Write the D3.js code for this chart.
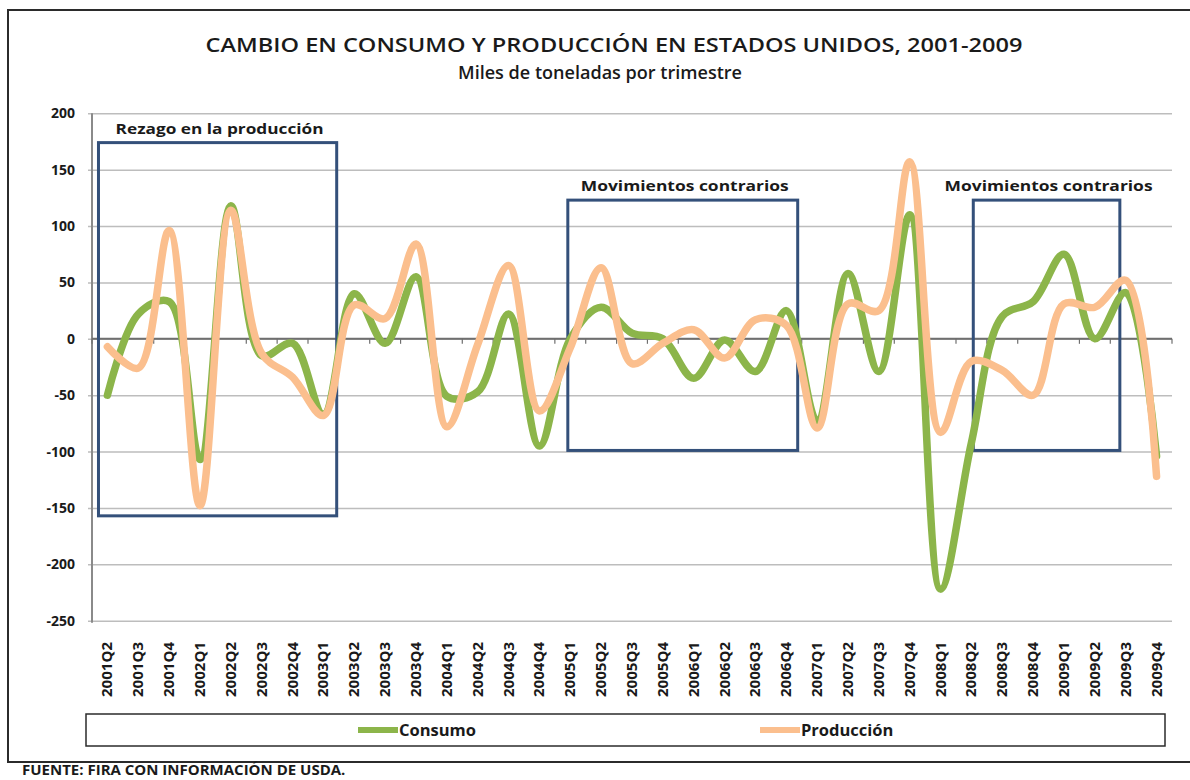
<!DOCTYPE html>
<html>
<head>
<meta charset="utf-8">
<script src="https://cdn.jsdelivr.net/npm/d3@7"></script>
<style>
  body { margin: 0; background: #fff; }
  text { font-family: "Open Sans", sans-serif; fill: #1a1a1a; }
</style>
</head>
<body>
<div id="chart"></div>
<script>
// Quarterly change, thousand tonnes
const quarters = ['2001Q2', '2001Q3', '2001Q4',
  '2002Q1', '2002Q2', '2002Q3', '2002Q4',
  '2003Q1', '2003Q2', '2003Q3', '2003Q4',
  '2004Q1', '2004Q2', '2004Q3', '2004Q4',
  '2005Q1', '2005Q2', '2005Q3', '2005Q4',
  '2006Q1', '2006Q2', '2006Q3', '2006Q4',
  '2007Q1', '2007Q2', '2007Q3', '2007Q4',
  '2008Q1', '2008Q2', '2008Q3', '2008Q4',
  '2009Q1', '2009Q2', '2009Q3', '2009Q4'];
const consumo = [-50, 22, 33, -107, 118, -15, -4, -67, 40, -4, 55, -51, -47, 22, -95, 0, 28, 5,
  0, -35, -1, -29, 25, -73, 58, -29, 110, -222, -92, 20, 33, 75, 0, 41, -104];
const produccion = [-7, -26, 96, -148, 114, -13, -34, -68, 30, 18, 84, -78, -5, 65, -64, -8, 63, -22,
  -4, 8, -17, 17, 12, -79, 31, 25, 157, -83, -20, -28, -50, 31, 28, 52, -122];
const yTicks = [200, 150, 100, 50, 0, -50, -100, -150, -200, -250];
const seriesNames = ['Consumo', 'Producción'];

// Annotation boxes (category index span, value span)
const boxLabels = ['Rezago en la producción', 'Movimientos contrarios', 'Movimientos contrarios'];
const boxFrom = [-0.29, 14.92, 28.06];
const boxTo = [7.43, 22.37, 32.81];
const boxTop = [174, 123, 123];
const boxBottom = [-157, -99, -99];

const W = 1190, H = 780;
const plot = { left: 92, right: 1172, top: 113.3, bottom: 620.7 };

const svg = d3.select('#chart').append('svg')
  .attr('width', W).attr('height', H)
  .style('display', 'block');

svg.append('rect').attr('width', W).attr('height', H).attr('fill', '#fff');

// outer frame
svg.append('rect')
  .attr('x', 8).attr('y', 10)
  .attr('width', 1200).attr('height', 752)
  .attr('fill', 'none')
  .attr('stroke', '#2b2b2b')
  .attr('stroke-width', 2);

const x = d3.scaleBand().domain(quarters).range([plot.left, plot.right]).padding(0);
const y = d3.scaleLinear().domain([-250, 200]).range([plot.bottom, plot.top]);
const xi = i => plot.left + x.step() * (i + 0.5);

// titles
svg.append('text')
  .attr('x', 614).attr('y', 52)
  .attr('text-anchor', 'middle')
  .attr('textLength', 817).attr('lengthAdjust', 'spacingAndGlyphs')
  .style('font-size', '19px').style('font-weight', 600)
  .text('CAMBIO EN CONSUMO  Y PRODUCCIÓN  EN ESTADOS UNIDOS, 2001-2009');
svg.append('text')
  .attr('x', 600).attr('y', 79)
  .attr('text-anchor', 'middle')
  .attr('textLength', 284).attr('lengthAdjust', 'spacingAndGlyphs')
  .style('font-size', '18px').style('font-weight', 600)
  .text('Miles de toneladas por trimestre');

// gridlines + y axis
const gy = svg.append('g')
  .attr('transform', `translate(${plot.left},0)`)
  .call(d3.axisLeft(y).tickValues(yTicks).tickSize(-(plot.right - plot.left)).tickFormat(d => String(d)));
gy.select('.domain').remove();
gy.selectAll('.tick line').attr('stroke', '#bdbdbd').attr('stroke-width', 1.6).attr('x1', -4);
gy.selectAll('.tick text')
  .attr('x', -17)
  .style('font-family', '"Open Sans", sans-serif')
  .style('font-size', '14px').style('font-weight', 700)
  .attr('fill', '#1a1a1a');

svg.append('line')
  .attr('x1', plot.left).attr('x2', plot.left)
  .attr('y1', plot.top).attr('y2', plot.bottom + 2)
  .attr('stroke', '#8a8a8a').attr('stroke-width', 2);

// category axis at zero
svg.append('line')
  .attr('x1', plot.left).attr('x2', plot.right)
  .attr('y1', y(0)).attr('y2', y(0))
  .attr('stroke', '#6f6f6f').attr('stroke-width', 2);
svg.append('g').selectAll('line')
  .data(quarters.concat(['end']))
  .enter().append('line')
  .attr('x1', (d, i) => plot.left + x.step() * i)
  .attr('x2', (d, i) => plot.left + x.step() * i)
  .attr('y1', y(0)).attr('y2', y(0) + 5)
  .attr('stroke', '#6f6f6f').attr('stroke-width', 1.2);

// category labels, rotated, below the plot
svg.append('g').selectAll('text')
  .data(quarters)
  .enter().append('text')
  .attr('transform', d => `translate(${x(d) + x.bandwidth() / 2 + 5},642) rotate(-90)`)
  .attr('text-anchor', 'end')
  .attr('textLength', 55).attr('lengthAdjust', 'spacingAndGlyphs')
  .style('font-size', '14px').style('font-weight', 700)
  .text(d => d);

// annotation boxes
const boxes = svg.append('g');
boxLabels.forEach((lab, k) => {
  boxes.append('rect')
    .attr('x', xi(boxFrom[k])).attr('y', y(boxTop[k]))
    .attr('width', xi(boxTo[k]) - xi(boxFrom[k]))
    .attr('height', y(boxBottom[k]) - y(boxTop[k]))
    .attr('fill', 'none')
    .attr('stroke', '#34507a')
    .attr('stroke-width', 3);
  boxes.append('text')
    .attr('x', (xi(boxFrom[k]) + xi(boxTo[k])) / 2 + 2)
    .attr('y', y(boxTop[k]) - 9)
    .attr('text-anchor', 'middle')
    .attr('textLength', 208).attr('lengthAdjust', 'spacingAndGlyphs')
    .style('font-size', '15px').style('font-weight', 700)
    .text(lab);
});

// series lines
const colors = ['#8cb54a', '#fbbf8e'];
const line = d3.line()
  .x((d, i) => x(quarters[i]) + x.bandwidth() / 2)
  .y(d => y(d))
  .curve(d3.curveCatmullRom.alpha(0.5));

[consumo, produccion].forEach((vals, k) => {
  svg.append('path')
    .datum(vals)
    .attr('d', line)
    .attr('fill', 'none')
    .attr('stroke', colors[k])
    .attr('stroke-width', 7.5)
    .attr('stroke-linejoin', 'round')
    .attr('stroke-linecap', 'round');
});

// legend
svg.append('rect')
  .attr('x', 86).attr('y', 714)
  .attr('width', 1165 - 86).attr('height', 32)
  .attr('fill', '#fff')
  .attr('stroke', '#2b2b2b').attr('stroke-width', 1.5);
const legX = [358, 760];
seriesNames.forEach((name, k) => {
  svg.append('line')
    .attr('x1', legX[k]).attr('x2', legX[k] + 40)
    .attr('y1', 730).attr('y2', 730)
    .attr('stroke', colors[k]).attr('stroke-width', 6);
  svg.append('text')
    .attr('x', legX[k] + 41).attr('y', 736)
    .style('font-size', '16.5px').style('font-weight', 700)
    .text(name);
});

// source note
svg.append('text')
  .attr('x', 22).attr('y', 775)
  .style('font-size', '15px').style('font-weight', 700)
  .text('FUENTE: FIRA CON INFORMACIÓN DE USDA.');
</script>
</body>
</html>
